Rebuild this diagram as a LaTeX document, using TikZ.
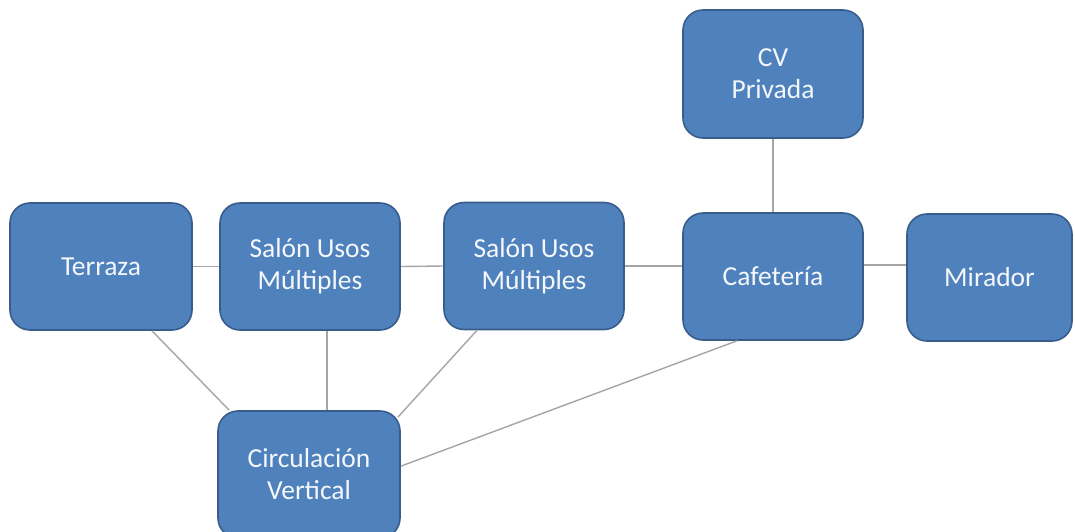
\documentclass[tikz,border=0pt]{standalone}
\usepackage{fontspec}
\setmainfont{Carlito}
\definecolor{boxfill}{HTML}{4F81BD}
\definecolor{boxline}{HTML}{385D8A}
\definecolor{linkgray}{HTML}{A5A5A5}
\definecolor{labeltext}{HTML}{F4F7FB}
\tikzset{
  room/.style={draw=boxline, line width=1.6pt, fill=boxfill, rounded corners=20pt,
    minimum width=180pt, minimum height=127pt, inner sep=0pt, align=center,
    text=labeltext, font=\fontsize{27.5}{32}\selectfont},
  link/.style={draw=linkgray, line width=1.4pt}
}
\begin{document}
\begin{tikzpicture}[x=1pt,y=-1pt]
\clip (0,0) rectangle (1075,531);
\fill[white] (0,0) rectangle (1075,531);

% rooms
\node[room, minimum width=182pt] (t)  at (101,266.5) {Terraza};
\node[room] (s1) at (310,266.5) {Salón Usos\\Múltiples};
\node[room] (s2) at (534,266) {Salón Usos\\Múltiples};
\node[room] (c)  at (773,276.5) {Cafetería};
\node[room, minimum width=165pt] (m) at (989.5,277.5) {Mirador};
\node[room, minimum height=128pt] (cv) at (773,74) {CV\\Privada};
\node[room, minimum width=182pt] (cir) at (309,474.5) {Circulación\\Vertical};

% links between the rooms
\draw[link] (t.east) -- (s1.west);
\draw[link] (s1.east) -- (s2.west);
\draw[link] (s2.east) -- (s2.east -| c.west);
\draw[link] ([yshift=11.5pt]c.east) -- ([yshift=11.5pt]c.east -| m.west);
\draw[link] (cv.south) -- (c.north);
\draw[link] ([xshift=51pt]t.south) -- ([xshift=12pt]cir.north west);
\draw[link] ([xshift=17pt]s1.south) -- ([xshift=18pt]cir.north);
\draw[link] ([xshift=-57pt]s2.south) -- ([xshift=-3pt,yshift=-7pt]cir.north east);
\draw[link] ([xshift=-36pt]c.south) -- ([yshift=-56pt]cir.north east);
\end{tikzpicture}
\end{document}
